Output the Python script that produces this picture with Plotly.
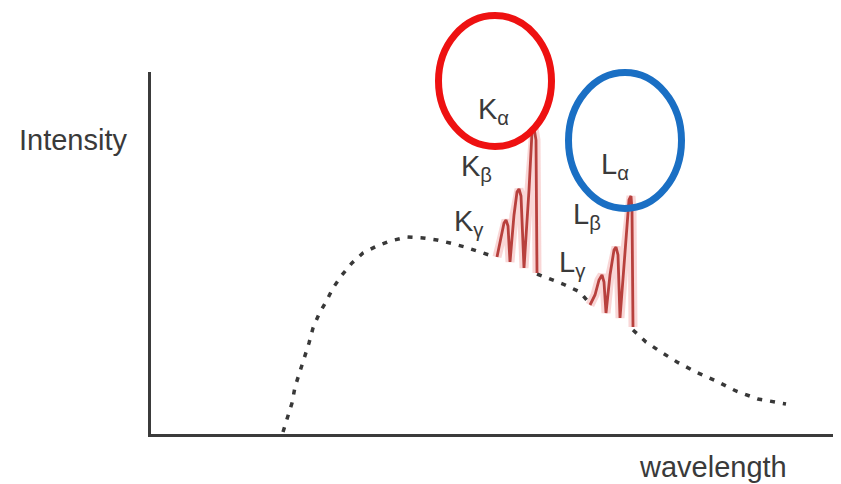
import plotly.graph_objects as go

# ---- data (wavelength units along x, intensity units along y) ----
# Continuous (bremsstrahlung) spectrum, drawn dashed; None separates segments hidden by the peaks
cont_x = [132, 136, 141, 144, 149, 154, 158, 162, 168, 176, 182, 191, 201, 212, 226, 239, 256, 272, 286, 299, 314, 329, 344,
          None, 386, 396, 412, 429, 439,
          None, 482, 495, 510, 526, 545, 565, 585, 607, 635]
cont_y = [2, 16, 31, 47, 62, 77, 91, 106, 120, 134, 146, 159, 171, 181, 188, 193, 197, 196, 194, 191, 187, 182, 177,
          None, 160, 156, 150, 142, 130,
          None, 104, 92, 82, 72, 62, 53, 43, 35, 30]

# K-series characteristic lines (gamma, beta, alpha)
k_x = [346, 350, 353, 355, 357, 359, 363, 366, 368, 370, 373, 378, 381, 383, 385, 386]
k_y = [177, 196, 211, 214, 208, 172, 219, 242, 245, 238, 166, 244, 302, 306, 294, 161]

# L-series characteristic lines (gamma, beta, alpha)
l_x = [439, 444, 448, 451, 453, 455, 459, 463, 465, 467, 469, 474, 478, 480, 481, 482]
l_y = [129, 139, 154, 159, 152, 121, 159, 184, 187, 179, 116, 184, 234, 238, 224, 107]

# line labels: (text, x, y)
label_text = ["K<sub>α</sub>", "K<sub>β</sub>", "K<sub>γ</sub>", "L<sub>α</sub>", "L<sub>β</sub>", "L<sub>γ</sub>"]
label_x = [325, 308, 301, 448, 420, 406]
label_y = [323, 266, 211, 268, 218, 170]

X_RANGE = [0, 682]
Y_RANGE = [0, 362]


def px(v):
    return (v - X_RANGE[0]) / (X_RANGE[1] - X_RANGE[0])


def py(v):
    return (v - Y_RANGE[0]) / (Y_RANGE[1] - Y_RANGE[0])


fig = go.Figure()

# continuum
fig.add_trace(go.Scatter(x=cont_x, y=cont_y, mode="lines", connectgaps=False,
                         line=dict(color="#383838", width=3.5, dash="5px,8px"),
                         hoverinfo="skip", showlegend=False))

# peaks: soft glow + red line
for sx, sy in [(k_x, k_y), (l_x, l_y)]:
    fig.add_trace(go.Scatter(x=sx, y=sy, mode="lines",
                             line=dict(color="rgba(235,120,120,0.3)", width=9),
                             hoverinfo="skip", showlegend=False))
    fig.add_trace(go.Scatter(x=sx, y=sy, mode="lines",
                             line=dict(color="#b8403d", width=2.8),
                             hoverinfo="skip", showlegend=False))

font_family = "Liberation Sans, Arial, sans-serif"
annotations = []
for t, x, y in zip(label_text, label_x, label_y):
    annotations.append(dict(x=x, y=y, xref="x", yref="y", text=t, showarrow=False,
                            xanchor="left", yanchor="middle",
                            font=dict(family=font_family, size=29, color="#3a3a3a")))
annotations.append(dict(x=px(-78), y=py(294), xref="paper", yref="paper", text="Intensity", showarrow=False,
                        xanchor="center", yanchor="middle",
                        font=dict(family=font_family, size=29, color="#3a3a3a")))
annotations.append(dict(x=px(562), y=py(-33), xref="paper", yref="paper", text="wavelength", showarrow=False,
                        xanchor="center", yanchor="middle",
                        font=dict(family=font_family, size=29, color="#3a3a3a")))

shapes = [
    dict(type="circle", xref="paper", yref="paper",
         x0=px(287.5), x1=px(400.5), y0=py(287.5), y1=py(418.5),
         line=dict(color="#ee1111", width=7)),
    dict(type="circle", xref="paper", yref="paper",
         x0=px(417.5), x1=px(530.5), y0=py(225.5), y1=py(361.5),
         line=dict(color="#1a6fc4", width=7)),
]

fig.update_layout(
    width=825, height=476,
    margin=dict(l=143, r=0, t=64, b=50),
    paper_bgcolor="white", plot_bgcolor="white",
    xaxis=dict(range=X_RANGE, showgrid=False, zeroline=False, showticklabels=False, ticks="",
               showline=True, linecolor="#3b3b3b", linewidth=3, fixedrange=True),
    yaxis=dict(range=Y_RANGE, showgrid=False, zeroline=False, showticklabels=False, ticks="",
               showline=True, linecolor="#3b3b3b", linewidth=3, fixedrange=True),
    annotations=annotations,
    shapes=shapes,
    showlegend=False,
)

fig.write_html("out.html")
